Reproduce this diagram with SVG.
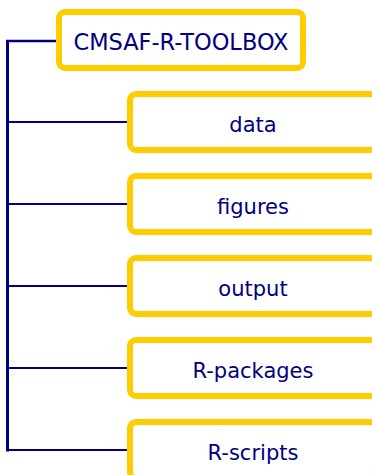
<svg xmlns="http://www.w3.org/2000/svg" width="372" height="475" viewBox="0 0 372 475">
<style>
.box{fill:#fff;stroke:#FFCC00;stroke-width:6}
.lbl{font-family:"DejaVu Sans",sans-serif;font-size:21px;fill:#000080;text-anchor:middle}
.root{font-size:23px}
.con{stroke:#000080;fill:none;stroke-width:2.2}
</style>
<rect width="372" height="475" fill="#fff"/>
<g id="connectors">
<line class="con" x1="7.5" y1="40" x2="7.5" y2="451.5" style="stroke-width:3"/>
<line class="con" x1="6" y1="41" x2="57" y2="41" style="stroke-width:2.6"/>
<line class="con" x1="7" y1="122" x2="128" y2="122"/>
<line class="con" x1="7" y1="204" x2="128" y2="204"/>
<line class="con" x1="7" y1="286" x2="128" y2="286"/>
<line class="con" x1="7" y1="368" x2="128" y2="368"/>
<line class="con" x1="6" y1="450" x2="128" y2="450"/>
</g>
<g id="root">
<rect class="box" x="59" y="12" width="244" height="56" rx="6"/>
<text class="lbl root" x="181" y="50" textLength="215" lengthAdjust="spacingAndGlyphs">CMSAF-R-TOOLBOX</text>
</g>
<g id="data">
<rect class="box" x="130" y="94" width="246" height="56" rx="6"/>
<text class="lbl" x="253" y="132">data</text>
</g>
<g id="figures">
<rect class="box" x="130" y="176" width="246" height="56" rx="6"/>
<text class="lbl" x="253" y="214">figures</text>
</g>
<g id="output">
<rect class="box" x="130" y="258" width="246" height="56" rx="6"/>
<text class="lbl" x="253" y="296">output</text>
</g>
<g id="r-packages">
<rect class="box" x="130" y="340" width="246" height="56" rx="6"/>
<text class="lbl" x="253" y="378">R-packages</text>
</g>
<g id="r-scripts">
<rect class="box" x="130" y="422" width="246" height="56" rx="6"/>
<text class="lbl" x="253" y="460">R-scripts</text>
</g>
</svg>
